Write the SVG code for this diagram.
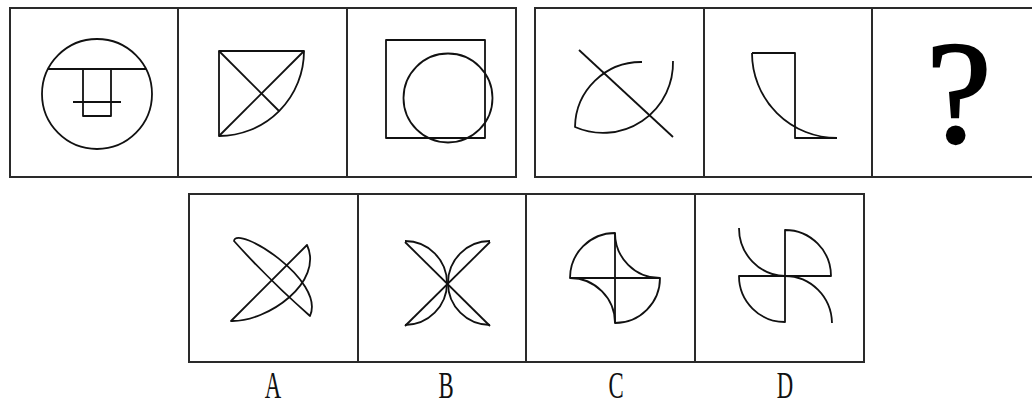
<svg xmlns="http://www.w3.org/2000/svg" width="1032" height="400" viewBox="0 0 1032 400">
<style>
.box{fill:none;stroke:#2a2a2a;stroke-width:2}
.f{fill:none;stroke:#111;stroke-width:1.8;stroke-linejoin:round}
.lbl{font-family:"Liberation Serif",serif;font-size:38px;fill:#111;text-anchor:middle}
.q{font-family:"Liberation Serif",serif;font-size:146px;fill:#000;stroke:#000;stroke-width:2.5;text-anchor:middle}
</style>
<rect width="1032" height="400" fill="#fff"/>
<g id="q1">
<rect class="box" x="10" y="8" width="168" height="169"/>
<circle class="f" cx="97" cy="94" r="55"/>
<line class="f" x1="48" y1="69" x2="146" y2="69"/>
<rect class="f" x="83" y="69" width="28" height="47"/>
<line class="f" x1="73" y1="102" x2="121" y2="102"/>
</g>
<g id="q2">
<rect class="box" x="178" y="8" width="169" height="169"/>
<path class="f" d="M219,136 V51 H304 A85,85 0 0 1 219,136 Z"/>
<line class="f" x1="219" y1="136" x2="304" y2="51"/>
<line class="f" x1="219" y1="51" x2="279" y2="111"/>
</g>
<g id="q3">
<rect class="box" x="347" y="8" width="169" height="169"/>
<rect class="f" x="386" y="40" width="99" height="98"/>
<circle class="f" cx="448" cy="98" r="44.5"/>
</g>
<g id="q4">
<rect class="box" x="535" y="8" width="169" height="169"/>
<line class="f" x1="579" y1="50" x2="673" y2="137"/>
<path class="f" d="M642,62 A66,66 0 0 0 575,127 A70,70 0 0 0 673,61"/>
</g>
<g id="q5">
<rect class="box" x="704" y="8" width="168" height="169"/>
<path class="f" d="M752,53 H795 V138 H837"/>
<path class="f" d="M752,53 A85,85 0 0 0 837,138"/>
</g>
<g id="q6">
<rect class="box" x="872" y="8" width="170" height="169"/>
<text class="q" x="959" y="142">?</text>
</g>
<g id="optA">
<rect class="box" x="189" y="194" width="169" height="168"/>
<path class="f" d="M234,241 C236,224 326,280 310,316 Q270,281 234,241 Z"/>
<path class="f" d="M231,321 L307,245 C324,282 268,322 231,321 Z"/>
<text class="lbl" transform="translate(273,398) scale(0.6,1)">A</text>
</g>
<g id="optB">
<rect class="box" x="358" y="194" width="168" height="168"/>
<line class="f" x1="405" y1="242" x2="490" y2="326"/>
<line class="f" x1="490" y1="242" x2="405" y2="326"/>
<path class="f" d="M405,241 A42,42 0 0 1 405,325"/>
<path class="f" d="M490,241 A42,42 0 0 0 490,325"/>
<text class="lbl" transform="translate(446,398) scale(0.6,1)">B</text>
</g>
<g id="optC">
<rect class="box" x="526" y="194" width="169" height="168"/>
<path class="f" d="M570,278 A45,45 0 0 1 615,233 A45,45 0 0 0 660,278 A45,45 0 0 1 615,323 A45,45 0 0 0 570,278 Z"/>
<line class="f" x1="615" y1="233" x2="615" y2="323"/>
<line class="f" x1="570" y1="278" x2="660" y2="278"/>
<text class="lbl" transform="translate(616,398) scale(0.6,1)">C</text>
</g>
<g id="optD">
<rect class="box" x="695" y="194" width="169" height="168"/>
<path class="f" d="M785,276 V230 A46,46 0 0 1 831,276 Z"/>
<path class="f" d="M785,276 V322 A46,46 0 0 1 739,276 Z"/>
<path class="f" d="M739,228 A47,48 0 0 0 785,276"/>
<path class="f" d="M785,276 A47,48 0 0 1 832,323"/>
<text class="lbl" transform="translate(785,398) scale(0.6,1)">D</text>
</g>
</svg>
